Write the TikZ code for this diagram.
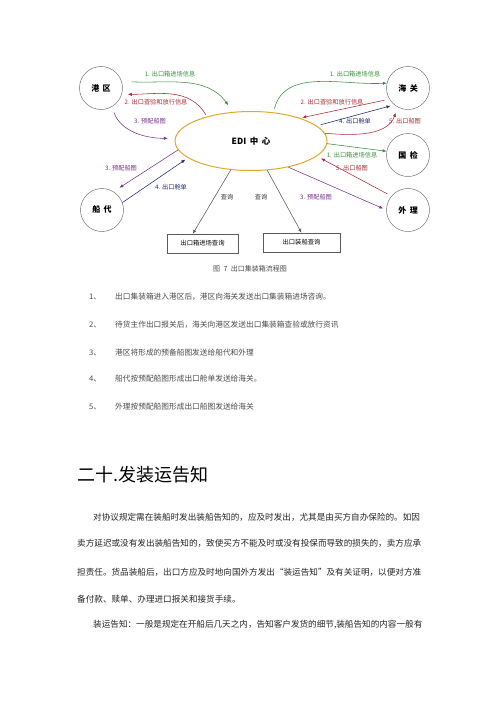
\documentclass[tikz,border=0pt]{standalone}
\usepackage{fontspec}
\setmainfont{Noto Sans CJK SC}
\usepackage{xcolor}
\usetikzlibrary{shapes,arrows.meta,positioning}
\definecolor{flowgreen}{RGB}{56,142,60}
\definecolor{flowred}{RGB}{176,40,56}
\definecolor{flowpurple}{RGB}{120,50,140}
\definecolor{flownavy}{RGB}{30,40,110}
\definecolor{edigold}{RGB}{224,168,48}
\definecolor{inkgray}{RGB}{90,90,90}
\newcommand{\gapsp}{\hspace{3.5pt}}

\begin{document}
\begin{tikzpicture}[x=1pt, y=1pt,
    party/.style={draw=inkgray, circle, minimum size=43pt, inner sep=0pt, font=\fontsize{8}{9}\selectfont\bfseries},
    querybox/.style={draw=inkgray, rectangle, inner sep=0pt, minimum height=19pt, font=\fontsize{6.3}{7}\selectfont},
    flow/.style={line width=0.55pt, -{Latex[length=4pt,width=3.2pt]}},
    lbl/.style={font=\fontsize{6.2}{7}\selectfont, inner sep=0pt},
    listtext/.style={anchor=west, inner sep=0pt, text=black!70, font=\fontsize{7.7}{9}\selectfont},
    bodytext/.style={anchor=west, inner sep=0pt, text=black!85, font=\fontsize{8.6}{10}\selectfont}]
				\fill[white] (0,0) rectangle (500,-707);
				\useasboundingbox (0,0) rectangle (500,-707);
				
				% Parties around the EDI centre
				\node[party] (gangqu) at (101,-88) {港\gapsp 区};
				\node[party] (chuandai) at (102,-210) {船\gapsp 代};
				\node[party] (haiguan) at (408,-88) {海\gapsp 关};
				\node[party] (guojian) at (408,-155) {国\gapsp 检};
				\node[party] (waili) at (408,-210) {外\gapsp 理};
				\node[draw=edigold, line width=1pt, ellipse, minimum width=152pt, minimum height=59pt, inner sep=0pt, font=\fontsize{8.5}{9}\selectfont\bfseries] (edi) at (251,-141) {EDI\gapsp 中\gapsp 心};
				
				% Query boxes
				\node[querybox, minimum width=71pt] (q1) at (202.5,-243.5) {出口箱进场查询};
				\node[querybox, minimum width=77pt] (q2) at (301.5,-242.5) {出口装船查询};
				
				% Flows with the port area
				\draw[flow, flowgreen, shorten <=10pt, shorten >=8pt] (gangqu.18) to[out=-3, in=125] (edi.122);
				\node[lbl, text=flowgreen] (l1) at (170,-74) {1. 出口箱进场信息};
				\draw[flow, flowred, shorten <=2pt, shorten >=6pt] (edi.151) to[out=120, in=0] (gangqu.-17);
				\node[lbl, text=flowred] (l2) at (156,-102) {2. 出口查验和放行信息};
				\draw[flow, flowpurple, shorten <=6pt, shorten >=7pt] (gangqu.-60) to[out=-70, in=180] (edi.178);
				\node[lbl, text=flowpurple] (l3) at (150,-121) {3. 预配船图};
				
				% Flows with the shipping agent
				\draw[flow, flowpurple, shorten >=7pt] (edi.187) -- (chuandai.58);
				\node[lbl, text=flowpurple] (l4) at (121,-168) {3. 预配船图};
				\draw[flow, flownavy, shorten >=3pt] (chuandai.20) -- (edi.195);
				\node[lbl, text=flownavy] (l5) at (171,-187) {4. 出口舱单};
				
				% Queries
				\draw[flow, inkgray] (edi.235) -- (q1.135);
				\draw[flow, inkgray] (edi.-61) -- (q2.north);
				\node[lbl, text=black!80] (l6) at (227,-197) {查询};
				\node[lbl, text=black!80] (l7) at (261,-197) {查询};
				
				% Flows with customs
				\draw[flow, flowgreen, shorten <=4pt] (edi.52) to[out=75, in=183] (haiguan.167);
				\node[lbl, text=flowgreen] (l8) at (355,-74) {1. 出口箱进场信息};
				\draw[flow, flowred, shorten <=5pt, shorten >=2pt] (haiguan.211) -- (edi.25);
				\node[lbl, text=flowred] (l9) at (332,-102) {2. 出口查验和放行信息};
				\draw[flow, flownavy, shorten <=4pt, shorten >=4pt] (edi.13) -- (haiguan.231);
				\node[lbl, text=flownavy] (l10) at (355,-121) {4. 出口舱单};
				\draw[flow, flowred, shorten >=6pt] (edi.6) to[out=-5, in=-110] (haiguan.242);
				\node[lbl, text=flowred] (l11) at (405,-121) {5. 出口船图};
				
				% Flows with inspection and tally
				\draw[flow, flowgreen] (edi.358) -- (guojian.170);
				\node[lbl, text=flowgreen] (l12) at (352,-155) {1. 出口箱进场信息};
				\draw[flow, flowred, shorten <=4.5pt, shorten >=4.5pt] (waili.140) -- (edi.-13);
				\node[lbl, text=flowred] (l13) at (352,-168) {5. 出口船图};
				\draw[flow, flowpurple, shorten >=3.5pt] (edi.-35) -- (waili.180);
				\node[lbl, text=flowpurple] (l14) at (316,-197) {3. 预配船图};
				
				\node[font=\fontsize{7}{8}\selectfont, text=black!70] (caption) at (250,-269) {图\gapsp 7\gapsp 出口集装箱流程图};
				
				% Numbered notes
				\node[listtext] (n1) at (89,-297) {1、};
				\node[listtext] (t1) at (115,-297) {出口集装箱进入港区后，港区向海关发送出口集装箱进场咨询。};
				\node[listtext] (n2) at (89,-325) {2、};
				\node[listtext] (t2) at (115,-325) {待货主作出口报关后，海关向港区发送出口集装箱查验或放行资讯};
				\node[listtext] (n3) at (89,-353) {3、};
				\node[listtext] (t3) at (115,-353) {港区将形成的预备船图发送给船代和外理};
				\node[listtext] (n4) at (89,-379) {4、};
				\node[listtext] (t4) at (115,-379) {船代按预配船图形成出口舱单发送给海关。};
				\node[listtext] (n5) at (89,-407) {5、};
				\node[listtext] (t5) at (115,-407) {外理按预配船图形成出口船图发送给海关};
				
				% Section text
				\node[anchor=west, inner sep=0pt, font=\fontsize{18}{20}\selectfont] (heading) at (77,-475) {二十.发装运告知};
				\node[bodytext] (p1) at (93,-517) {对协议规定需在装船时发出装船告知的，应及时发出，尤其是由买方自办保险的。如因};
				\node[bodytext] (p2) at (77,-543) {卖方延迟或没有发出装船告知的，致使买方不能及时或没有投保而导致的损失的，卖方应承};
				\node[bodytext] (p3) at (77,-572) {担责任。货品装船后，出口方应及时地向国外方发出“装运告知”及有关证明，以便对方准};
				\node[bodytext] (p4) at (77,-599) {备付款、赎单、办理进口报关和接货手续。};
				\node[bodytext] (p5) at (93,-625) {装运告知：一般是规定在开船后几天之内，告知客户发货的细节,装船告知的内容一般有};
			\end{tikzpicture}
\end{document}
